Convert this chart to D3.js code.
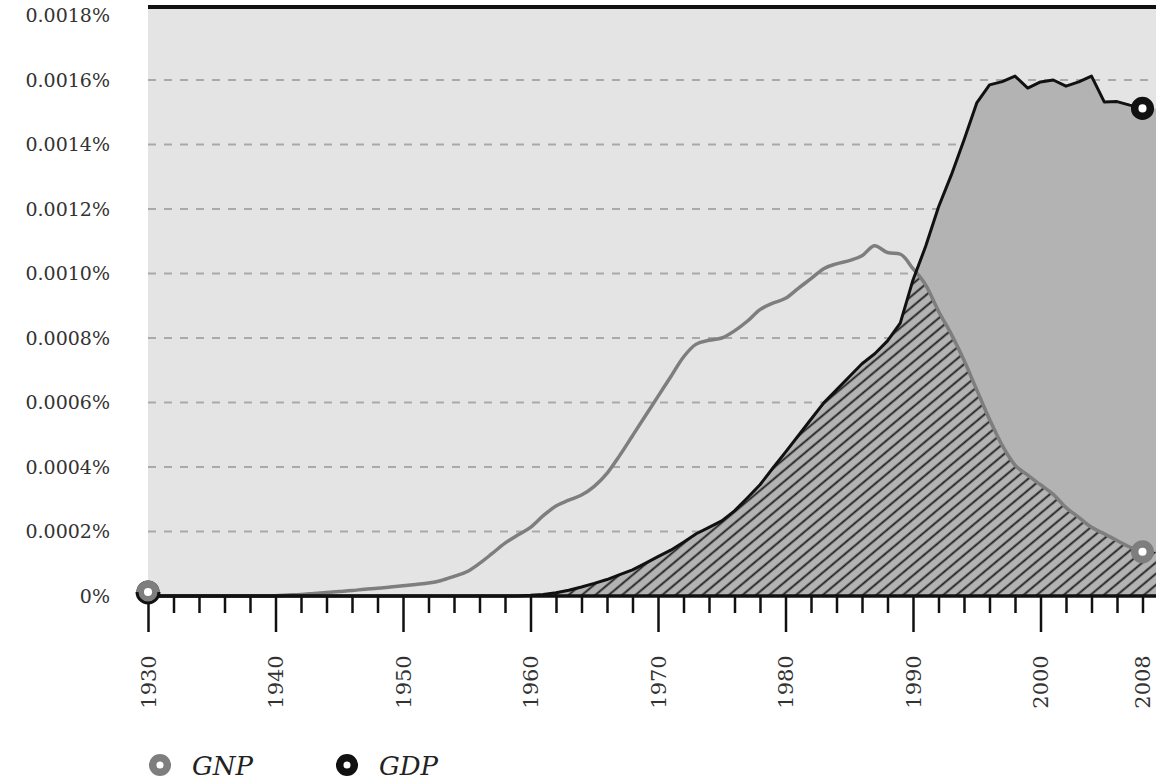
<!DOCTYPE html>
<html>
<head>
<meta charset="utf-8">
<script src="https://cdn.jsdelivr.net/npm/d3@7"></script>
<style>
  html, body { margin: 0; padding: 0; background: #ffffff; }
  svg { display: block; }
</style>
</head>
<body>
<svg id="chart" width="1156" height="780"></svg>
<script>
// ---------- DATA ----------
const years = d3.range(1930, 2009);
const gnpValues = [
  0, 0, 0, 0, 0, 0, 0, 0, 0, 0,                          // 1930-1939
  0.000001, 0.000003, 0.000005, 0.000008, 0.000011,      // 1940-1944
  0.000014, 0.000017, 0.000021, 0.000024, 0.000028,      // 1945-1949
  0.000032, 0.000036, 0.00004, 0.000048, 0.000061,       // 1950-1954
  0.000075, 0.000101, 0.000132, 0.000164, 0.000189,      // 1955-1959
  0.000213, 0.000249, 0.000279, 0.000297, 0.000313,      // 1960-1964
  0.00034, 0.00038, 0.000436, 0.000497, 0.000558,        // 1965-1969
  0.000619, 0.00068, 0.000741, 0.000781, 0.000793,       // 1970-1974
  0.0008, 0.000822, 0.000852, 0.000888, 0.000908,        // 1975-1979
  0.000923, 0.000954, 0.000984, 0.001015, 0.00103,       // 1980-1984
  0.00104, 0.001055, 0.001086, 0.001065, 0.00106,        // 1985-1989
  0.001015, 0.000964, 0.000883, 0.000812, 0.000731,      // 1990-1994
  0.000639, 0.000548, 0.000467, 0.000406, 0.000375,      // 1995-1999
  0.000345, 0.000315, 0.000274, 0.000244, 0.000213,      // 2000-2004
  0.000193, 0.000172, 0.000152, 0.000137                 // 2005-2008
];
const gdpValues = [
  0, 0, 0, 0, 0, 0, 0, 0, 0, 0,                          // 1930-1939
  0, 0, 0, 0, 0, 0, 0, 0, 0, 0,                          // 1940-1949
  0, 0, 0, 0, 0, 0, 0, 0, 0, 0,                          // 1950-1959
  0.000002, 0.000005, 0.00001, 0.000018, 0.000028,       // 1960-1964
  0.000039, 0.000051, 0.000066, 0.000081, 0.000101,      // 1965-1969
  0.000122, 0.000142, 0.000167, 0.000193, 0.000213,      // 1970-1974
  0.000233, 0.000264, 0.000304, 0.000345, 0.000396,      // 1975-1979
  0.000446, 0.000497, 0.000548, 0.000599, 0.000639,      // 1980-1984
  0.00068, 0.00072, 0.000751, 0.000791, 0.000846,        // 1985-1989
  0.00098, 0.001085, 0.001206, 0.001305, 0.001414,       // 1990-1994
  0.001529, 0.001585, 0.001595, 0.001612, 0.001575,      // 1995-1999
  0.001594, 0.0016, 0.001581, 0.001594, 0.001612,        // 2000-2004
  0.001532, 0.001533, 0.001522, 0.001512                 // 2005-2008
];
const yTickValues = [0, 0.0002, 0.0004, 0.0006, 0.0008, 0.001, 0.0012, 0.0014, 0.0016, 0.0018];
const yTickLabels = ["0%", "0.0002%", "0.0004%", "0.0006%", "0.0008%", "0.0010%", "0.0012%", "0.0014%", "0.0016%", "0.0018%"];
const xLabelYears = [1930, 1940, 1950, 1960, 1970, 1980, 1990, 2000, 2008];
const legendItems = ["GNP", "GDP"];

// ---------- SETUP ----------
const svg = d3.select("#chart");
const plotLeft = 148, plotRight = 1156, plotTop = 7, plotBottom = 596;
const x = d3.scaleLinear().domain([1930, 2008]).range([plotLeft, 1142.5]);
const y = d3.scaleLinear().domain([0, 0.0018]).range([plotBottom, 15.5]);

const gnp = years.map((yr, i) => ({ year: yr, v: gnpValues[i] }));
const gdp = years.map((yr, i) => ({ year: yr, v: gdpValues[i] }));
// areas continue flat to the right edge of the frame
const edgeYear = x.invert(plotRight);
const gnpA = gnp.concat([{ year: edgeYear, v: gnpValues[gnpValues.length - 1] }]);
const gdpA = gdp.concat([{ year: edgeYear, v: gdpValues[gdpValues.length - 1] }]);

const colGNP = "#7e7e7e", colGDP = "#111111";

const defs = svg.append("defs");
const pat = defs.append("pattern")
  .attr("id", "hatch")
  .attr("patternUnits", "userSpaceOnUse")
  .attr("width", 8.6).attr("height", 8.6)
  .attr("patternTransform", "rotate(-40)");
pat.append("rect").attr("width", 8.6).attr("height", 8.6).attr("fill", "#b3b3b3");
pat.append("line").attr("x1", -1).attr("x2", 10).attr("y1", 4.3).attr("y2", 4.3)
  .attr("stroke", "#1a1a1a").attr("stroke-width", 1.8);

// background
svg.append("rect").attr("x", plotLeft).attr("y", plotTop)
  .attr("width", plotRight - plotLeft).attr("height", plotBottom - plotTop)
  .attr("fill", "#e4e4e4");

// grid
svg.append("g").selectAll("line")
  .data(yTickValues.filter(v => v > 0 && v < 0.0018))
  .join("line")
  .attr("x1", plotLeft).attr("x2", plotRight)
  .attr("y1", d => y(d)).attr("y2", d => y(d))
  .attr("stroke", "#a9a9a9").attr("stroke-width", 2)
  .attr("stroke-dasharray", "8,8");

// areas
const gdpArea = d3.area().x(d => x(d.year)).y0(plotBottom).y1(d => y(d.v)).curve(d3.curveLinear);
const gnpArea = d3.area().x(d => x(d.year)).y0(plotBottom).y1(d => y(d.v)).curve(d3.curveMonotoneX);

svg.append("path").datum(gdpA).attr("d", gdpArea).attr("fill", "#b3b3b3");

defs.append("clipPath").attr("id", "gnpClip")
  .append("path").datum(gnpA).attr("d", gnpArea);

svg.append("path").datum(gdpA).attr("d", gdpArea)
  .attr("fill", "url(#hatch)")
  .attr("clip-path", "url(#gnpClip)");

// lines
const gnpLine = d3.line().x(d => x(d.year)).y(d => y(d.v)).curve(d3.curveMonotoneX);
const gdpLine = d3.line().x(d => x(d.year)).y(d => y(d.v)).curve(d3.curveLinear);

svg.append("path").datum(gnp).attr("d", gnpLine)
  .attr("fill", "none").attr("stroke", colGNP).attr("stroke-width", 3.5)
  .attr("stroke-linejoin", "round");
svg.append("path").datum(gdp).attr("d", gdpLine)
  .attr("fill", "none").attr("stroke", colGDP).attr("stroke-width", 3)
  .attr("stroke-linejoin", "round");

// top border
svg.append("line").attr("x1", plotLeft).attr("x2", plotRight)
  .attr("y1", plotTop).attr("y2", plotTop)
  .attr("stroke", "#111").attr("stroke-width", 4);

// y labels
svg.append("g").selectAll("text")
  .data(yTickValues)
  .join("text")
  .attr("x", 110)
  .attr("y", d => y(d))
  .attr("dy", "0.35em")
  .attr("text-anchor", "end")
  .attr("font-family", "'DejaVu Serif', serif")
  .attr("font-size", 19)
  .attr("fill", "#333")
  .text((d, i) => yTickLabels[i]);

// x axis
const xAxis = d3.axisBottom(x)
  .tickValues(d3.range(1930, 2009, 2))
  .tickSize(15)
  .tickFormat("");
const gx = svg.append("g").attr("transform", `translate(0,${plotBottom})`).call(xAxis);
gx.select(".domain").remove();
gx.selectAll(".tick line")
  .attr("stroke", "#111").attr("stroke-width", 2.5)
  .attr("y2", d => (d % 10 === 0) ? 36 : 17);

svg.append("line").attr("x1", plotLeft).attr("x2", plotRight)
  .attr("y1", plotBottom).attr("y2", plotBottom)
  .attr("stroke", "#111").attr("stroke-width", 3.5);

svg.append("g").selectAll("text")
  .data(xLabelYears)
  .join("text")
  .attr("transform", d => `translate(${x(d)},682) rotate(-90)`)
  .attr("text-anchor", "middle")
  .attr("dy", "0.36em")
  .attr("font-family", "'DejaVu Serif', serif")
  .attr("font-size", 21)
  .attr("fill", "#333")
  .text(d => d);

// end markers
function marker(cx, cy, col) {
  svg.append("circle").attr("cx", cx).attr("cy", cy).attr("r", 7.8)
    .attr("fill", "#fff").attr("stroke", col).attr("stroke-width", 7.5);
}
marker(x(1930), y(gdp[0].v) - 4, colGDP);
marker(x(1930), y(gnp[0].v) - 4, colGNP);
svg.append("path").attr("d", `M${x(1930) - 11},${plotBottom - 4} A11,11 0 0,0 ${x(1930) + 11},${plotBottom - 4}`)
  .attr("fill", "none").attr("stroke", colGDP).attr("stroke-width", 3);
marker(x(2008), y(gdp[gdp.length - 1].v), colGDP);
marker(x(2008), y(gnp[gnp.length - 1].v), colGNP);

// legend
const legendX = [160, 347];
const legendCols = [colGNP, colGDP];
legendItems.forEach((name, i) => {
  svg.append("circle").attr("cx", legendX[i]).attr("cy", 765).attr("r", 7.3)
    .attr("fill", "#fff").attr("stroke", legendCols[i]).attr("stroke-width", 7.5);
  svg.append("text").attr("x", legendX[i] + 32).attr("y", 775)
    .attr("font-family", "'DejaVu Serif', serif")
    .attr("font-style", "italic")
    .attr("font-size", 26)
    .attr("fill", "#222")
    .text(name);
});
</script>
</body>
</html>
